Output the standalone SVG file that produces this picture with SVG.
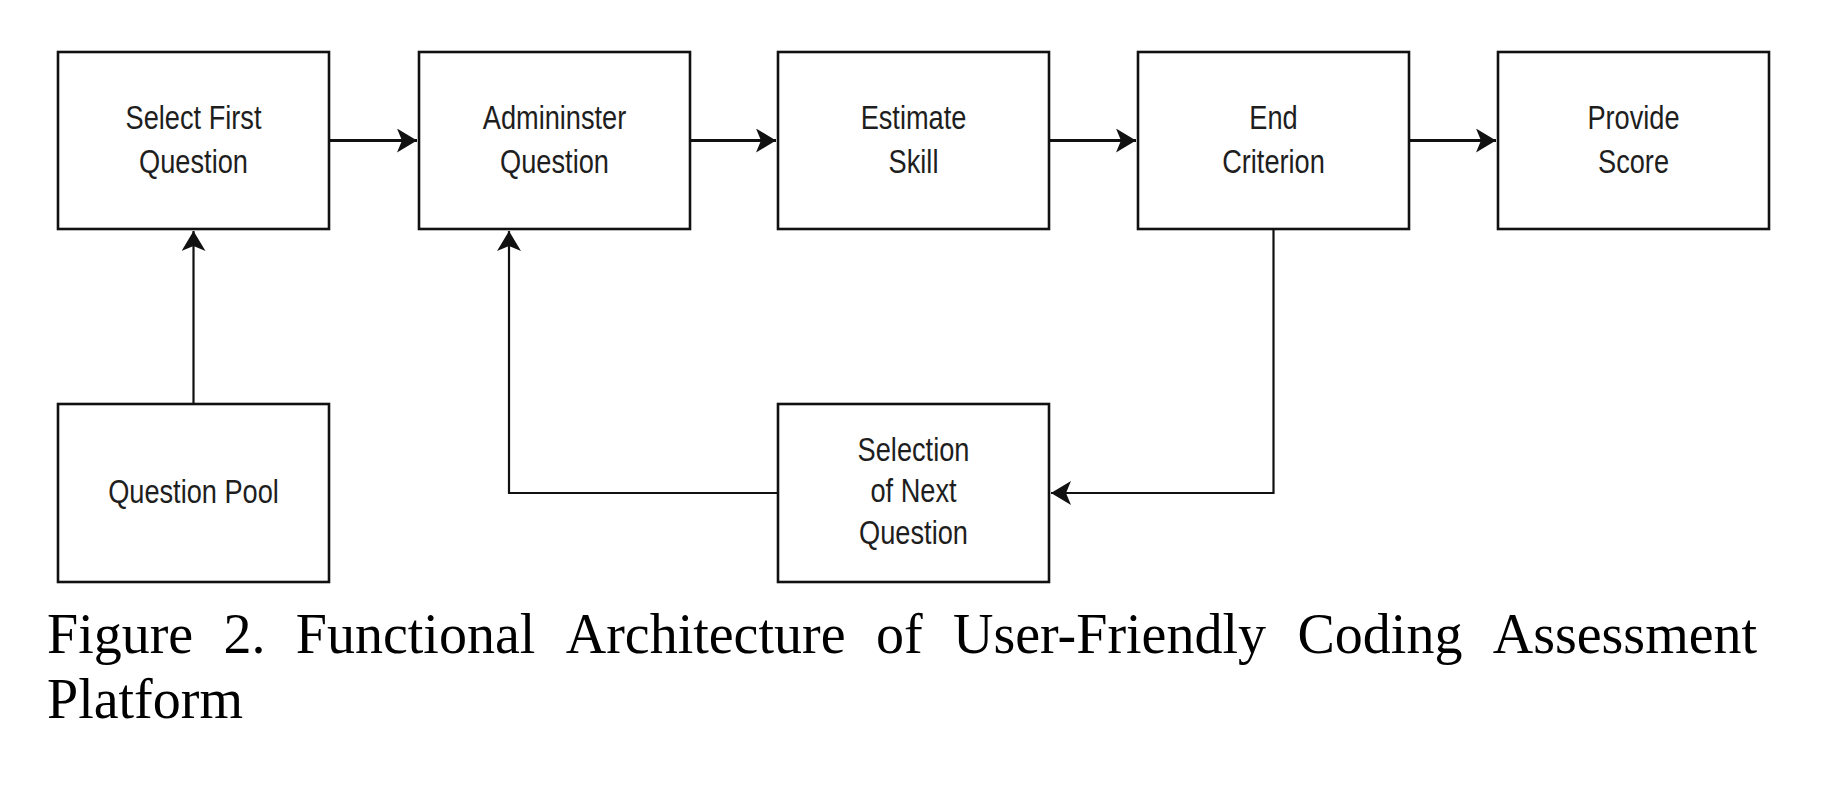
<svg xmlns="http://www.w3.org/2000/svg" width="1824" height="802" viewBox="0 0 1824 802">
<style>
.box{fill:#ffffff;stroke:#111111;stroke-width:2.6}
.lbl{font-family:"Liberation Sans",Arial,sans-serif;font-size:34px;fill:#1e1e1e;text-anchor:middle}
.edge{fill:none;stroke:#111111;stroke-width:2.2}
.thick{stroke-width:3}
.cap{font-family:"Liberation Serif","Times New Roman",serif;font-size:56px;fill:#000000}
</style>
<defs>
<marker id="arr" markerUnits="userSpaceOnUse" markerWidth="24" markerHeight="26" refX="20" refY="12" orient="auto">
<path d="M0,0 L20,12 L0,24 L5,12 Z" fill="#111111"/>
</marker>
</defs>
<rect width="1824" height="802" fill="#ffffff"/>
<g id="connectors">
<path class="edge thick" d="M329,140.5 H417" marker-end="url(#arr)"/>
<path class="edge thick" d="M690,140.5 H776" marker-end="url(#arr)"/>
<path class="edge thick" d="M1049,140.5 H1136" marker-end="url(#arr)"/>
<path class="edge thick" d="M1409,140.5 H1496" marker-end="url(#arr)"/>
<path class="edge" d="M193.5,404 V231" marker-end="url(#arr)"/>
<path class="edge" d="M1273.5,229 V493 H1051" marker-end="url(#arr)"/>
<path class="edge" d="M778,493 H509 V231" marker-end="url(#arr)"/>
</g>
<g id="select-first">
<rect class="box" x="58" y="52" width="271" height="177"/>
<text class="lbl" transform="translate(193.5,0) scale(0.8,1)"><tspan x="0" y="129">Select First</tspan><tspan x="0" y="173">Question</tspan></text>
</g>
<g id="administer">
<rect class="box" x="419" y="52" width="271" height="177"/>
<text class="lbl" transform="translate(554.5,0) scale(0.8,1)"><tspan x="0" y="129">Admininster</tspan><tspan x="0" y="173">Question</tspan></text>
</g>
<g id="estimate">
<rect class="box" x="778" y="52" width="271" height="177"/>
<text class="lbl" transform="translate(913.5,0) scale(0.8,1)"><tspan x="0" y="129">Estimate</tspan><tspan x="0" y="173">Skill</tspan></text>
</g>
<g id="end-criterion">
<rect class="box" x="1138" y="52" width="271" height="177"/>
<text class="lbl" transform="translate(1273.5,0) scale(0.8,1)"><tspan x="0" y="129">End</tspan><tspan x="0" y="173">Criterion</tspan></text>
</g>
<g id="provide-score">
<rect class="box" x="1498" y="52" width="271" height="177"/>
<text class="lbl" transform="translate(1633.5,0) scale(0.8,1)"><tspan x="0" y="129">Provide</tspan><tspan x="0" y="173">Score</tspan></text>
</g>
<g id="question-pool">
<rect class="box" x="58" y="404" width="271" height="178"/>
<text class="lbl" transform="translate(193.5,0) scale(0.8,1)"><tspan x="0" y="503">Question Pool</tspan></text>
</g>
<g id="selection-next">
<rect class="box" x="778" y="404" width="271" height="178"/>
<text class="lbl" transform="translate(913.5,0) scale(0.8,1)"><tspan x="0" y="461">Selection</tspan><tspan x="0" y="502.5">of Next</tspan><tspan x="0" y="544">Question</tspan></text>
</g>
<g id="caption">
<text class="cap" y="653"><tspan x="47">Figure</tspan><tspan x="223.5">2.</tspan><tspan x="295.8">Functional</tspan><tspan x="565.7">Architecture</tspan><tspan x="876">of</tspan><tspan x="953">User-Friendly</tspan><tspan x="1297.5">Coding</tspan><tspan x="1492.7">Assessment</tspan></text>
<text class="cap" x="47" y="718">Platform</text>
</g>
</svg>
